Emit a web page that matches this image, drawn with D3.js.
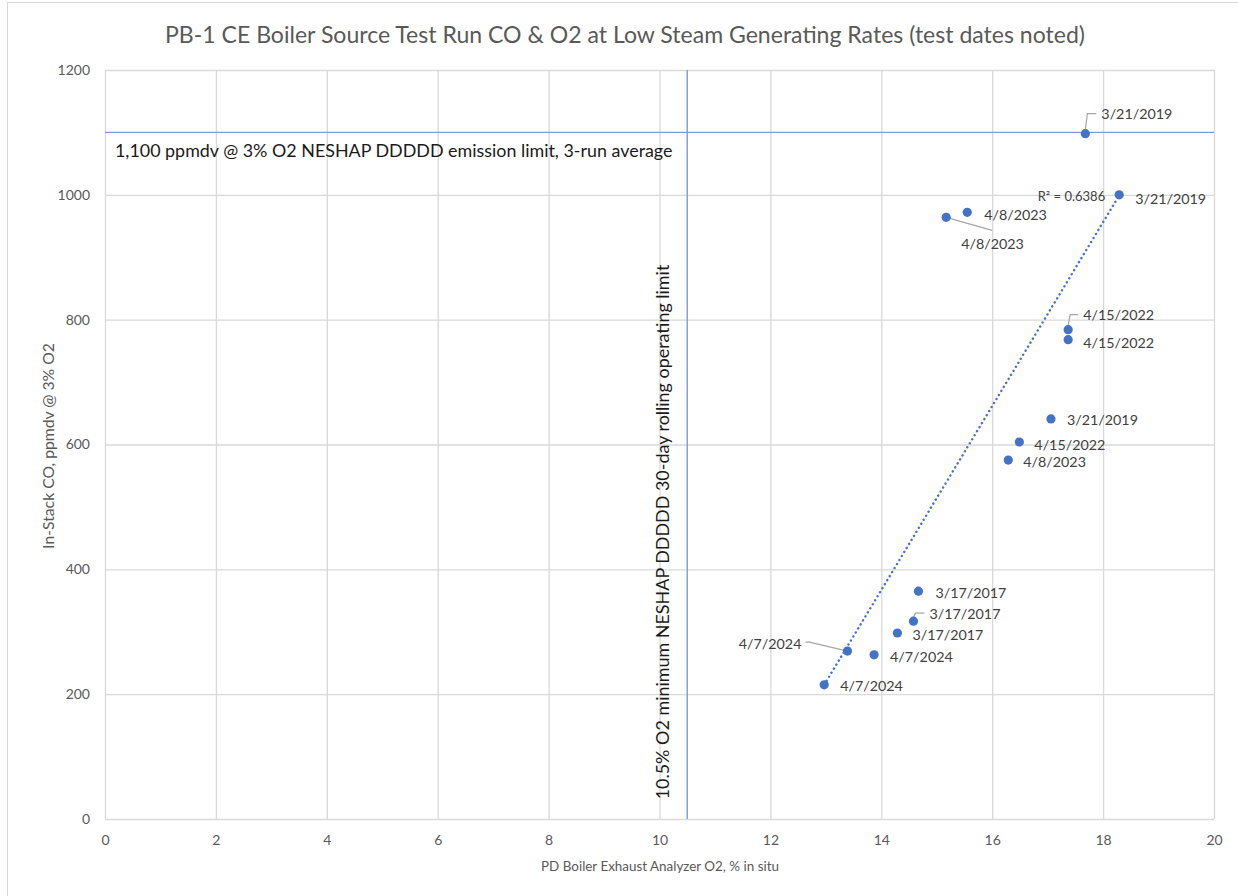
<!DOCTYPE html>
<html>
<head>
<meta charset="utf-8">
<script src="https://cdn.jsdelivr.net/npm/d3@7"></script>
<style>
  html, body { margin: 0; padding: 0; background: #fff; }
  svg { display: block; }
  text { font-family: Lato, "Open Sans", sans-serif; }
</style>
</head>
<body>
<svg id="chart" width="1238" height="896"></svg>
<script>
// ---------- data ----------
const testDates = ["3/21/2019","3/21/2019","4/8/2023","4/8/2023","4/15/2022","4/15/2022","3/21/2019","4/15/2022","4/8/2023","3/17/2017","3/17/2017","3/17/2017","4/7/2024","4/7/2024","4/7/2024"];
const o2Values  = [17.68, 18.29, 15.55, 15.17, 17.37, 17.37, 17.06, 16.49, 16.29, 14.67, 14.58, 14.29, 13.39, 13.87, 12.97];
const coValues  = [1098, 1000, 972, 964, 784, 768, 641, 604, 575, 365, 317, 298, 269, 263, 215];
const trendO2 = [12.97, 18.29];
const trendCO = [215, 999];
const rSquared = "R\u00B2 = 0.6386";
const xTicks = [0, 2, 4, 6, 8, 10, 12, 14, 16, 18, 20];
const yTicks = [0, 200, 400, 600, 800, 1000, 1200];
const coLimit = 1100;
const o2Limit = 10.5;

// label layout (pixel offsets from each point; leader draws a connector)
const labelLayout = [
  {dx: 16, dy: -20, leader: "elbowUp"},
  {dx: 16, dy: 4},
  {dx: 17, dy: 2},
  {dx: 15, dy: 26, leader: "diag", lx: 46, ly: 13},
  {dx: 15, dy: -15, leader: "elbowUp"},
  {dx: 15, dy: 3},
  {dx: 16, dy: 1},
  {dx: 15, dy: 2},
  {dx: 15, dy: 1},
  {dx: 17, dy: 1},
  {dx: 16, dy: -8, leader: "elbowUp"},
  {dx: 15, dy: 2},
  {dx: -46, dy: -8, anchor: "end", leader: "left"},
  {dx: 16, dy: 2},
  {dx: 16, dy: 1}
];

// ---------- layout ----------
const svg = d3.select("#chart");
const plot = {left: 105, right: 1214, top: 70, bottom: 819};
const x = d3.scaleLinear().domain([0, 20]).range([plot.left, plot.right]);
const y = d3.scaleLinear().domain([0, 1200]).range([plot.bottom, plot.top]);
const gridColor = "#d9d9d9";
const blue = "#4472C4";
const limitBlue = "#7b9bd9";

function fit(sel, width) {
  const node = sel.node();
  const fs = parseFloat(sel.attr("font-size"));
  const w = node.getComputedTextLength();
  sel.attr("font-size", (fs * width / w).toFixed(2));
  return sel;
}

// outer border
svg.append("rect").attr("x", 7.5).attr("y", 2.5).attr("width", 1400).attr("height", 1000)
  .attr("fill", "none").attr("stroke", gridColor).attr("stroke-width", 1);

// gridlines via axes
svg.append("g").attr("transform", `translate(0,${plot.bottom})`)
  .call(d3.axisBottom(x).tickValues(xTicks).tickSize(-(plot.bottom - plot.top)).tickFormat(""))
  .call(g => g.select(".domain").remove())
  .call(g => g.selectAll("line").attr("stroke", gridColor).attr("stroke-width", 1.3));
svg.append("g").attr("transform", `translate(${plot.left},0)`)
  .call(d3.axisLeft(y).tickValues(yTicks).tickSize(-(plot.right - plot.left)).tickFormat(""))
  .call(g => g.select(".domain").remove())
  .call(g => g.selectAll("line").attr("stroke", gridColor).attr("stroke-width", 1.3));

// tick labels
svg.append("g").attr("transform", `translate(0,${plot.bottom})`)
  .call(d3.axisBottom(x).tickValues(xTicks).tickSize(0).tickPadding(16).tickFormat(d3.format("d")))
  .call(g => g.select(".domain").remove())
  .call(g => g.selectAll("text").attr("fill", "#595959").attr("font-size", 14)
    .attr("font-family", "Lato, 'Open Sans', sans-serif"));
svg.append("g").attr("transform", `translate(${plot.left},0)`)
  .call(d3.axisLeft(y).tickValues(yTicks).tickSize(0).tickPadding(15).tickFormat(d3.format("d")))
  .call(g => g.select(".domain").remove())
  .call(g => g.selectAll("text").attr("fill", "#595959").attr("font-size", 14)
    .attr("font-family", "Lato, 'Open Sans', sans-serif"));

// title
fit(svg.append("text").attr("x", 625).attr("y", 34).attr("text-anchor", "middle")
  .attr("dominant-baseline", "central").attr("fill", "#595959").attr("font-size", 20)
  .text("PB-1 CE Boiler Source Test Run CO & O2 at Low Steam Generating Rates (test dates noted)"), 920);

// axis titles
fit(svg.append("text").attr("x", 660).attr("y", 866).attr("text-anchor", "middle")
  .attr("dominant-baseline", "central").attr("fill", "#595959").attr("font-size", 14)
  .text("PD Boiler Exhaust Analyzer O2, % in situ"), 238);
fit(svg.append("text").attr("transform", "translate(47,446) rotate(-90)").attr("text-anchor", "middle")
  .attr("dominant-baseline", "central").attr("fill", "#595959").attr("font-size", 14)
  .text("In-Stack CO, ppmdv @ 3% O2"), 206);

// limit lines
svg.append("line").attr("x1", x(0)).attr("x2", x(20)).attr("y1", y(coLimit)).attr("y2", y(coLimit))
  .attr("stroke", limitBlue).attr("stroke-width", 1.4);
svg.append("line").attr("x1", x(o2Limit)).attr("x2", x(o2Limit)).attr("y1", y(0)).attr("y2", y(1200))
  .attr("stroke", limitBlue).attr("stroke-width", 1.4);

fit(svg.append("text").attr("x", 115).attr("y", 150).attr("dominant-baseline", "central")
  .attr("fill", "#1a1a1a").attr("font-size", 15)
  .text("1,100 ppmdv @ 3% O2 NESHAP DDDDD emission limit, 3-run average"), 558);
fit(svg.append("text").attr("transform", "translate(662,532) rotate(-90)").attr("text-anchor", "middle")
  .attr("dominant-baseline", "central").attr("fill", "#1a1a1a").attr("font-size", 15)
  .text("10.5% O2 minimum NESHAP DDDDD 30-day rolling operating limit"), 535);

// trendline
svg.append("line")
  .attr("x1", x(trendO2[0])).attr("y1", y(trendCO[0]))
  .attr("x2", x(trendO2[1])).attr("y2", y(trendCO[1]))
  .attr("stroke", blue).attr("stroke-width", 2.4)
  .attr("stroke-linecap", "round").attr("stroke-dasharray", "0.1 4.6");

// R^2 label
svg.append("text").attr("x", x(trendO2[1]) - 14).attr("y", y(trendCO[1]) + 1)
  .attr("text-anchor", "end").attr("dominant-baseline", "central")
  .attr("fill", "#404040").attr("font-size", 13).text(rSquared);

const pts = testDates.map((d, i) => ({date: d, x: o2Values[i], y: coValues[i], lay: labelLayout[i]}));

// leaders
const leaderG = svg.append("g").attr("fill", "none").attr("stroke", "#a6a6a6").attr("stroke-width", 1.2);
pts.forEach(p => {
  const px = x(p.x), py = y(p.y), L = p.lay;
  if (!L.leader) return;
  let path;
  if (L.leader === "elbowUp") {
    const ex = px + 2, ey = py + L.dy;
    path = `M${px},${py - 4}L${ex},${ey}L${px + L.dx - 5},${ey}`;
  } else if (L.leader === "diag") {
    path = `M${px},${py}L${px + L.lx},${py + L.ly}`;
  } else if (L.leader === "left") {
    path = `M${px},${py}L${px - 38},${py - 9}L${px - 42},${py - 9}`;
  }
  leaderG.append("path").attr("d", path);
});

// points
svg.append("g").selectAll("circle").data(pts).join("circle")
  .attr("cx", d => x(d.x)).attr("cy", d => y(d.y)).attr("r", 4.6).attr("fill", blue);

// data labels
svg.append("g").selectAll("text").data(pts).join("text")
  .attr("x", d => x(d.x) + d.lay.dx).attr("y", d => y(d.y) + d.lay.dy)
  .attr("text-anchor", d => d.lay.anchor || "start")
  .attr("dominant-baseline", "central")
  .attr("fill", "#404040").attr("font-size", 14.3)
  .text(d => d.date);
</script>
</body>
</html>
